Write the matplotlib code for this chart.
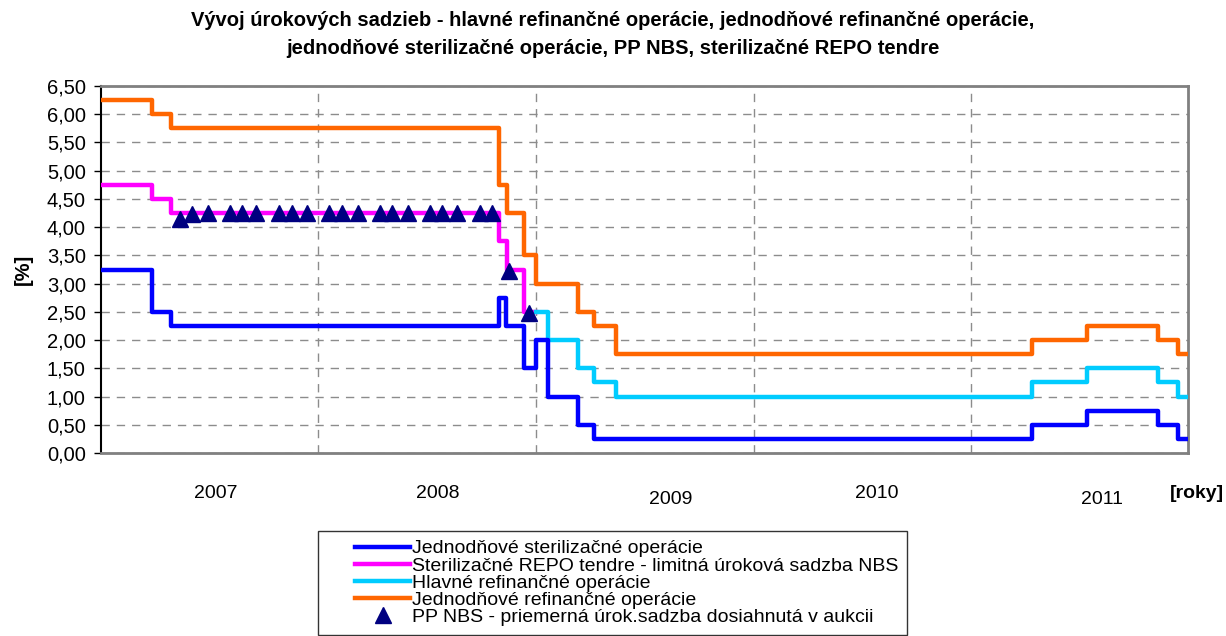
import numpy as np
import pandas as pd
import matplotlib
matplotlib.use('Agg')
import matplotlib.pyplot as plt
from matplotlib.lines import Line2D
from matplotlib.legend_handler import HandlerLine2D
from matplotlib.ticker import FuncFormatter, MultipleLocator

plt.rcParams['font.family'] = ['Liberation Sans', 'DejaVu Sans']

# step series: date of change and new rate
steril_dates = ['2007-01-01', '2007-03-28', '2007-04-28', '2008-10-30', '2008-11-11',
                '2008-12-11', '2009-01-01', '2009-01-21', '2009-03-11', '2009-04-08',
                '2011-04-13', '2011-07-14', '2011-11-10', '2011-12-15']
steril_vals = [3.25, 2.50, 2.25, 2.75, 2.25, 1.50, 2.00, 1.00, 0.50, 0.25,
               0.50, 0.75, 0.50, 0.25]

repo_dates = ['2007-01-01', '2007-03-28', '2007-04-28', '2008-10-30', '2008-11-12',
              '2008-12-11']
repo_vals = [4.75, 4.50, 4.25, 3.75, 3.25, 2.50]

mro_dates = ['2009-01-01', '2009-01-21', '2009-03-11', '2009-04-08', '2009-05-14',
             '2011-04-13', '2011-07-14', '2011-11-10', '2011-12-15']
mro_vals = [2.50, 2.00, 1.50, 1.25, 1.00, 1.25, 1.50, 1.25, 1.00]

refi_dates = ['2007-01-01', '2007-03-28', '2007-04-28', '2008-10-30', '2008-11-12',
              '2008-12-11', '2009-01-01', '2009-03-11', '2009-04-08', '2009-05-14',
              '2011-04-13', '2011-07-14', '2011-11-10', '2011-12-15']
refi_vals = [6.25, 6.00, 5.75, 4.75, 4.25, 3.50, 3.00, 2.50, 2.25, 1.75,
             2.00, 2.25, 2.00, 1.75]

# PP NBS auction averages
pp_dates = ['2007-05-13', '2007-06-03', '2007-06-29', '2007-08-05', '2007-08-25',
            '2007-09-19', '2007-10-26', '2007-11-18', '2007-12-12', '2008-01-19',
            '2008-02-09', '2008-03-07', '2008-04-13', '2008-05-03', '2008-05-30',
            '2008-07-06', '2008-07-26', '2008-08-20', '2008-09-28', '2008-10-18',
            '2008-11-16', '2008-12-20']
pp_vals = [4.15, 4.24, 4.25, 4.25, 4.25, 4.25, 4.25, 4.25, 4.25, 4.25,
           4.25, 4.25, 4.25, 4.25, 4.25, 4.25, 4.25, 4.25, 4.25, 4.25,
           3.22, 2.48]

year_labels = ['2007', '2008', '2009', '2010', '2011']
year_label_dates = ['2007-07-13', '2008-07-20', '2009-08-14', '2010-07-27', '2011-08-08']
year_label_drop = [0, 0, 1, 0, 1]

labels = ['Jednodňové sterilizačné operácie',
          'Sterilizačné REPO tendre - limitná úroková sadzba NBS',
          'Hlavné refinančné operácie',
          'Jednodňové refinančné operácie',
          'PP NBS - priemerná úrok.sadzba dosiahnutá v aukcii']

x_start = pd.Timestamp('2007-01-01')
x_end = pd.Timestamp('2011-12-31')


def extend(dates, vals, end):
    d = list(pd.to_datetime(dates)) + [pd.Timestamp(end)]
    v = list(vals) + [vals[-1]]
    return d, v


fig = plt.figure(figsize=(12.26, 6.36), dpi=100)
ax = fig.add_axes([0.0824, 0.2877, 0.8866, 0.5771])

lw = 3.2
d, v = extend(steril_dates, steril_vals, x_end)
ax.step(d, v, where='post', color='#0000FF', lw=lw, label=labels[0], zorder=4)
d, v = extend(repo_dates, repo_vals, '2008-12-31')
ax.step(d, v, where='post', color='#FF00FF', lw=lw, label=labels[1], zorder=3)
d, v = extend(mro_dates, mro_vals, x_end)
ax.step(d, v, where='post', color='#00CCFF', lw=lw, label=labels[2], zorder=3)
d, v = extend(refi_dates, refi_vals, x_end)
ax.step(d, v, where='post', color='#FF6600', lw=lw, label=labels[3], zorder=3)
ax.plot(pd.to_datetime(pp_dates), pp_vals, ls='none', marker='^', ms=11,
        color='#000080', label=labels[4], zorder=5)

ax.set_xlim(x_start, x_end)
ax.set_ylim(0, 6.5)
ax.yaxis.set_major_locator(MultipleLocator(0.5))
ax.yaxis.set_major_formatter(FuncFormatter(lambda y, p: f'{y:.2f}'.replace('.', ',')))
ax.tick_params(axis='y', labelsize=14.5, length=5, width=1, direction='out', pad=6)
ax.set_xticks(pd.to_datetime(['2008-01-01', '2009-01-01', '2010-01-01', '2011-01-01']))
ax.tick_params(axis='x', length=0, labelbottom=False)

ax.grid(True, axis='both', color='#8c8c8c', lw=1, ls=(0, (6, 5)))
ax.set_axisbelow(True)

for s in ['top', 'right', 'bottom']:
    ax.spines[s].set_color('#808080')
    ax.spines[s].set_linewidth(2)
ax.spines['left'].set_color('black')
ax.spines['left'].set_linewidth(1.5)

for lab, dt, drop in zip(year_labels, year_label_dates, year_label_drop):
    ax.text(pd.Timestamp(dt), -0.71 - 0.12 * drop, lab, ha='center', va='center', fontsize=14)
fig.text(0.976, 1 - 493 / 636, '[roky]', ha='center', va='center', fontsize=14, fontweight='bold')

ax.set_ylabel('[%]', fontsize=14.5, fontweight='bold', labelpad=10)

fig.suptitle('Vývoj úrokových sadzieb - hlavné refinančné operácie, jednodňové refinančné operácie,\n'
             'jednodňové sterilizačné operácie, PP NBS, sterilizačné REPO tendre',
             fontsize=14.5, fontweight='bold', y=0.982, linespacing=1.55)

leg = fig.legend(loc='upper left', bbox_to_anchor=(318 / 1226, 1 - 531 / 636),
                 fontsize=14, frameon=True, fancybox=False, edgecolor='black',
                 handlelength=4.3, handletextpad=0.1, labelspacing=-0.02,
                 borderpad=0.45, borderaxespad=0,
                 handler_map={Line2D: HandlerLine2D(xpad=1.45)})
leg.get_frame().set_linewidth(1)

plt.savefig('out.png', dpi=100)
print('Done')
